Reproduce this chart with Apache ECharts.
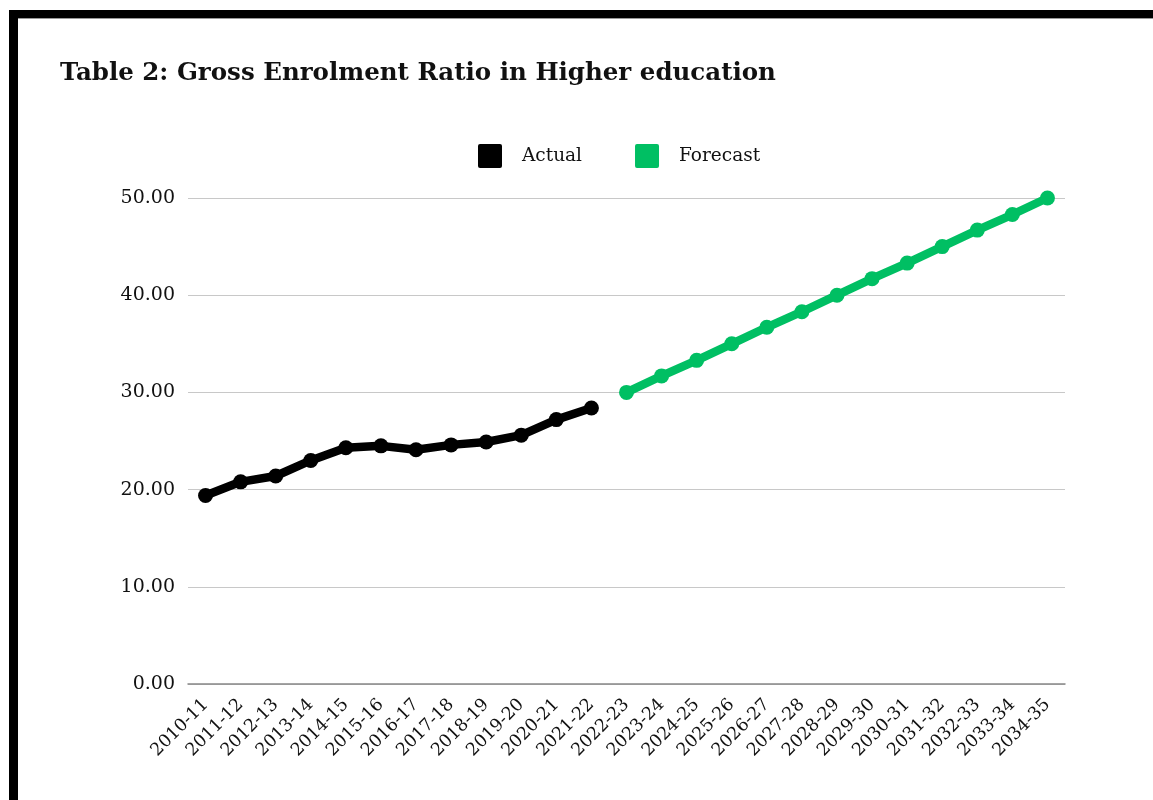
<!DOCTYPE html>
<html>
<head>
<meta charset="utf-8">
<script src="https://cdn.jsdelivr.net/npm/echarts@6/dist/echarts.min.js"></script>
<style>
html,body{margin:0;padding:0;background:#fff;}
#c{width:1153px;height:800px;}
</style>
</head>
<body>
<div id="c"></div>
<script>
const categories = ["2010-11","2011-12","2012-13","2013-14","2014-15","2015-16","2016-17","2017-18","2018-19","2019-20","2020-21","2021-22","2022-23","2023-24","2024-25","2025-26","2026-27","2027-28","2028-29","2029-30","2030-31","2031-32","2032-33","2033-34","2034-35"];
const actual = [19.4,20.8,21.4,23.0,24.3,24.5,24.1,24.6,24.9,25.6,27.2,28.4,null,null,null,null,null,null,null,null,null,null,null,null,null];
const forecast = [null,null,null,null,null,null,null,null,null,null,null,null,30.0,31.7,33.3,35.0,36.7,38.3,40.0,41.7,43.3,45.0,46.7,48.3,50.0];
const yTicks = [0,10,20,30,40,50];

const FONT = '"DejaVu Serif", serif';
const chart = echarts.init(document.getElementById('c'), null, {renderer:'canvas'});
chart.setOption({
  animation:false,
  backgroundColor:'#fff',
  graphic:[
    {type:'rect', left:9, top:10, shape:{width:1144, height:8}, style:{fill:'#000'}},
    {type:'rect', left:9, top:10, shape:{width:9, height:790}, style:{fill:'#000'}},
    {type:'rect', left:18, top:18, shape:{width:1135, height:1}, style:{fill:'#999'}},
    {type:'text', left:60, top:61, style:{text:'Table 2: Gross Enrolment Ratio in Higher education', font:'bold 24.5px '+FONT, fill:'#111'}}
  ],
  legend:{
    top:139, left:473,
    itemWidth:24, itemHeight:24, itemGap:53,
    icon:'path://M2,0 L22,0 Q24,0 24,2 L24,22 Q24,24 22,24 L2,24 Q0,24 0,22 L0,2 Q0,0 2,0 Z',
    textStyle:{fontFamily:FONT, fontSize:18.5, color:'#111', padding:[0,0,0,15]},
    data:['Actual','Forecast']
  },
  grid:{left:188, right:88, top:198, bottom:116},
  xAxis:{
    type:'category', data:categories, boundaryGap:true,
    axisLine:{lineStyle:{color:'#888', width:1.5}},
    axisTick:{show:false},
    axisLabel:{rotate:45, interval:0, fontFamily:FONT, fontSize:17.5, color:'#111', margin:18}
  },
  yAxis:{
    type:'value', min:0, max:50, interval:10,
    axisLine:{show:false}, axisTick:{show:false},
    splitLine:{lineStyle:{color:'#c8c8c8', width:1.2}},
    axisLabel:{fontFamily:FONT, fontSize:19, color:'#111', margin:13, formatter:v=>v.toFixed(2)}
  },
  series:[
    {name:'Actual', type:'line', data:actual, connectNulls:false,
     lineStyle:{color:'#000', width:8.5}, itemStyle:{color:'#000'},
     symbol:'circle', symbolSize:15},
    {name:'Forecast', type:'line', data:forecast, connectNulls:false,
     lineStyle:{color:'#00BF63', width:8.5}, itemStyle:{color:'#00BF63'},
     symbol:'circle', symbolSize:15}
  ]
});
</script>
</body>
</html>
